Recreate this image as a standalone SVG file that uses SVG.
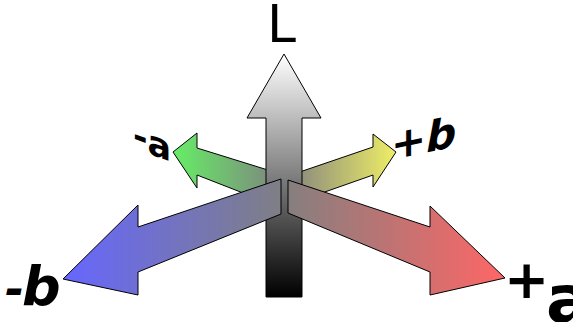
<svg xmlns="http://www.w3.org/2000/svg" width="573" height="322" viewBox="0 0 573 322">
<style>
.arr{stroke:#000;stroke-width:1;stroke-linejoin:miter}
.lbl{font-family:"DejaVu Sans","Liberation Sans",sans-serif;fill:#000}
.pl{font-weight:bold}
</style>
<defs>
<linearGradient id="gL" gradientUnits="userSpaceOnUse" x1="0" y1="54" x2="0" y2="297"><stop offset="0" stop-color="#fff"/><stop offset="1" stop-color="#000"/></linearGradient>
<linearGradient id="gNA" gradientUnits="userSpaceOnUse" x1="173" y1="0" x2="284" y2="0"><stop offset="0" stop-color="#66ee66"/><stop offset="1" stop-color="#808080"/></linearGradient>
<linearGradient id="gPB" gradientUnits="userSpaceOnUse" x1="396" y1="0" x2="284" y2="0"><stop offset="0" stop-color="#eeee66"/><stop offset="1" stop-color="#808080"/></linearGradient>
<linearGradient id="gNB" gradientUnits="userSpaceOnUse" x1="63" y1="0" x2="290" y2="0"><stop offset="0" stop-color="#6666ff"/><stop offset="1" stop-color="#808080"/></linearGradient>
<linearGradient id="gPA" gradientUnits="userSpaceOnUse" x1="505" y1="0" x2="278" y2="0"><stop offset="0" stop-color="#ff6666"/><stop offset="1" stop-color="#808080"/></linearGradient>
</defs>
<g id="connectors">
<polygon id="arrow-minus-a" class="arr" fill="url(#gNA)" points="173,152 197,133 197,148 284,175 284,209 197,175 197,188"/>
<polygon id="arrow-plus-b" class="arr" fill="url(#gPB)" points="396,152 373,134 373,147 285,177 285,206 373,175 373,187"/>
<polygon id="arrow-L" class="arr" fill="url(#gL)" points="284,54 321,118 302,118 302,297 266,297 266,118 247,118"/>
<polygon id="arrow-minus-b" class="arr" fill="url(#gNB)" points="63,279 138,205 138,227 281,179 281,214 138,272 138,295"/>
<polygon id="arrow-plus-a" class="arr" fill="url(#gPA)" points="505,278 430,206 430,227 288,180 288,213 430,272 430,295"/>
</g>
<g id="node-L"><text class="lbl" x="267" y="42" font-size="52">L</text></g>
<g id="node-minus-a"><text class="lbl pl" font-size="35" transform="translate(133,146) skewY(20)">-<tspan dy="2">a</tspan></text></g>
<g id="node-plus-b"><text class="lbl pl" font-size="42" font-style="italic" transform="translate(391,160) skewY(-12)">+b</text></g>
<g id="node-minus-b"><text class="lbl pl" font-style="italic"><tspan x="5" y="305" font-size="46">-</tspan><tspan x="22" y="305" font-size="54">b</tspan></text></g>
<g id="node-plus-a"><text class="lbl pl"><tspan x="504" y="298" font-size="54">+</tspan><tspan x="546" y="322" font-size="66">a</tspan></text></g>
</svg>
